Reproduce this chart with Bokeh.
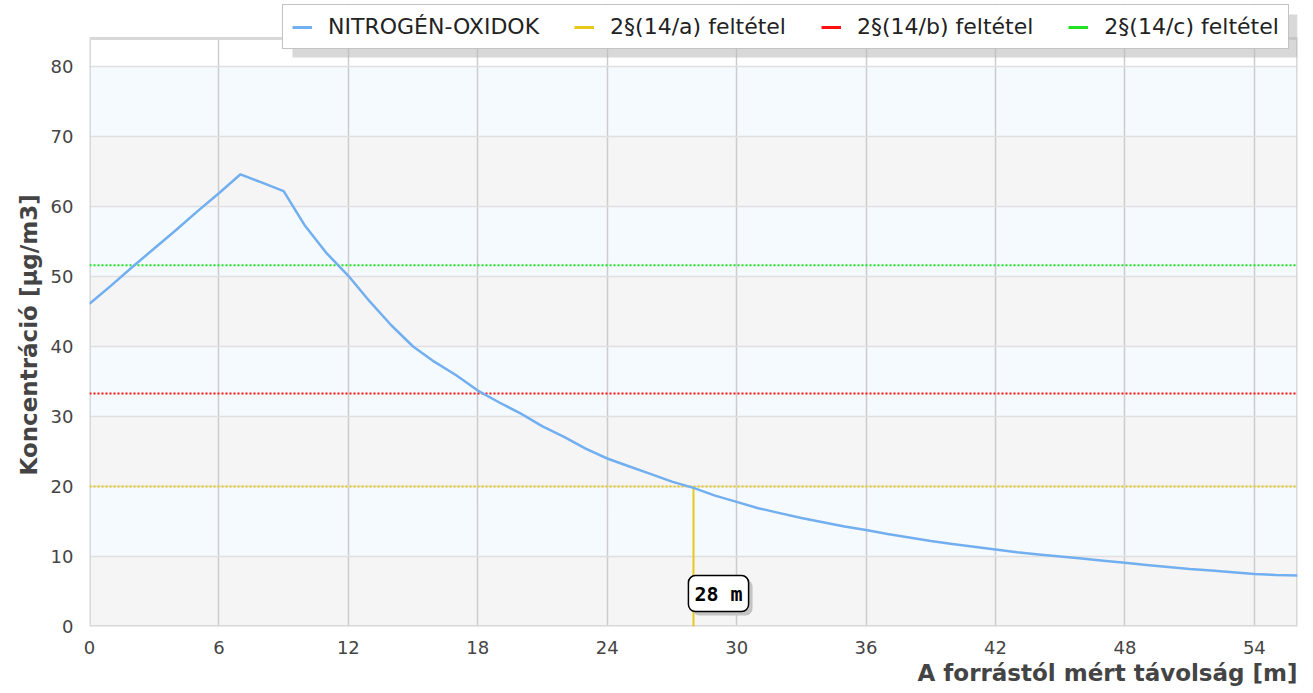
from bokeh.plotting import figure
from bokeh.models import (Legend, LegendItem, Label, FixedTicker, Range1d, Title, BoxAnnotation)
from bokeh.embed import file_html
from bokeh.resources import INLINE

# ---- data ----
distance_m = list(range(0, 57))
nox = [46.1, 48.7, 51.4, 54.0, 56.6, 59.3, 61.9, 64.6, 63.4, 62.2,
       57.2, 53.3, 50.1, 46.4, 43.0, 40.0, 37.8, 35.9, 33.7, 32.0,
       30.4, 28.6, 27.1, 25.4, 24.0, 22.9, 21.8, 20.7, 19.8, 18.7,
       17.8, 16.9, 16.2, 15.5, 14.9, 14.3, 13.8, 13.2, 12.7, 12.2,
       11.8, 11.4, 11.0, 10.6, 10.3, 10.0, 9.7, 9.4, 9.1, 8.8,
       8.5, 8.2, 8.0, 7.75, 7.5, 7.35, 7.3]
limit_a = 20.0
limit_b = 33.3
limit_c = 51.6
cross_x = 28
cross_y = 19.8
cross_label_y = 4.7
cross_label = "28 m"
series_names = ["NITROGÉN-OXIDOK", "2§(14/a) feltétel", "2§(14/b) feltétel", "2§(14/c) feltétel"]
x_ticks = [0, 6, 12, 18, 24, 30, 36, 42, 48, 54]
y_ticks = [0, 10, 20, 30, 40, 50, 60, 70, 80]
band_low = [10, 30, 50, 70]
band_high = [20, 40, 60, 80]
gray_low = [0, 20, 40, 60]
gray_high = [10, 30, 50, 70]
x_min, x_max = 0, 56
y_min, y_max = 0, 84

BLUE = "#72aff0"
YELLOW = "#e8c81a"
RED = "#ff1010"
GREEN = "#22e022"
FONT = "DejaVu Sans"
TXT = "#444444"
BORDER = "#d8d8d8"

FRAME_H = 624
PX_PER_UNIT = 7.0
y_top = FRAME_H / PX_PER_UNIT   # headroom above the value axis, used by the legend

p = figure(frame_width=1208, frame_height=FRAME_H, output_backend="svg",
           toolbar_location=None, x_range=Range1d(x_min, x_max), y_range=Range1d(y_min, y_top),
           min_border_left=89, min_border_right=4, min_border_top=2, min_border_bottom=66)
p.background_fill_color = "white"
p.border_fill_color = "white"
p.outline_line_color = None

# bands
p.quad(left=x_min, right=x_max, bottom=band_low, top=band_high, fill_color="#f5faff", line_color=None, level="underlay")
p.quad(left=x_min, right=x_max, bottom=gray_low, top=gray_high, fill_color="#f5f5f5", line_color=None, level="underlay")

p.xgrid.grid_line_color = "#cccccc"
p.xgrid.grid_line_width = 1.5
p.ygrid.grid_line_color = "#e0e0e0"
p.ygrid.grid_line_width = 1.5
p.xgrid.level = "underlay"
p.ygrid.level = "underlay"

# white headroom above the plot area, and the plot-area border
p.quad(left=x_min, right=x_max, bottom=y_max, top=y_top, fill_color="white", line_color=None)
p.line([x_min, x_min, x_max, x_max, x_min], [y_max, y_min, y_min, y_max, y_max],
       line_color=BORDER, line_width=3)

p.xaxis.ticker = FixedTicker(ticks=x_ticks)
p.yaxis.ticker = FixedTicker(ticks=y_ticks)
for ax in (p.xaxis[0], p.yaxis[0]):
    ax.axis_line_color = None
    ax.major_tick_line_color = None
    ax.minor_tick_line_color = None
    ax.major_tick_out = 0
    ax.major_tick_in = 0
    ax.major_label_text_font = FONT
    ax.major_label_text_font_size = "18px"
    ax.major_label_text_color = TXT
p.xaxis.major_label_standoff = 14
p.yaxis.major_label_standoff = 16

# axis titles
p.add_layout(Title(text="A forrástól mért távolság [m]", align="right", text_font=FONT,
                   text_font_style="bold", text_font_size="23px", text_color=TXT,
                   standoff=2, offset=0), "below")
p.add_layout(Title(text="Koncentráció [µg/m3]", align="left", text_font=FONT,
                   text_font_style="bold", text_font_size="23px", text_color=TXT,
                   standoff=12, offset=151), "left")

# limit lines
p.line([x_min, x_max], [limit_a, limit_a], line_color=YELLOW, line_width=2, line_dash="2 2")
p.line([x_min, x_max], [limit_b, limit_b], line_color=RED, line_width=2, line_dash="2 2")
p.line([x_min, x_max], [limit_c, limit_c], line_color=GREEN, line_width=2, line_dash="2 2")
p.segment(x0=[cross_x], y0=[0], x1=[cross_x], y1=[cross_y], line_color=YELLOW, line_width=2)
p.line(distance_m, nox, line_color=BLUE, line_width=2.5)

# legend proxies (solid short strokes, as in the reference legend); NaN draws nothing in the plot
nan = float("nan")
proxies = [p.line(x=[nan], y=[nan], line_color=c, line_width=3) for c in (BLUE, YELLOW, RED, GREEN)]

# label with shadow
for fill, txt_col, off in (("#c4c4c4", "#c4c4c4", 4), ("white", "black", 0)):
    p.add_layout(Label(x=cross_x, y=cross_label_y, text=cross_label, text_font="DejaVu Sans Mono",
                       text_font_style="bold", text_font_size="20px", text_color=txt_col,
                       anchor="center", x_offset=25 + off, y_offset=-off,
                       background_fill_color=fill, border_line_color=(None if off else "black"),
                       border_line_width=1.5, border_radius=7, padding=6))

# legend drop shadow
p.add_layout(BoxAnnotation(left=292, right=1297, top=14, bottom=57,
                           left_units="canvas", right_units="canvas", top_units="canvas", bottom_units="canvas",
                           fill_color="#b8b8b8", fill_alpha=0.55, line_color=None, level="annotation"))

legend = Legend(items=[LegendItem(label=n, renderers=[r]) for n, r in zip(series_names, proxies)],
                orientation="horizontal", location=(193, 577),
                label_text_font=FONT, label_text_font_size="22px", label_text_color="#222222",
                background_fill_color="white", background_fill_alpha=1.0,
                border_line_color="#888888", border_line_width=1.5,
                glyph_width=20, glyph_height=24, label_height=24, label_standoff=16, spacing=35,
                padding=9, margin=0)
p.add_layout(legend, "center")

open("out.html", "w").write(file_html(p, INLINE))
